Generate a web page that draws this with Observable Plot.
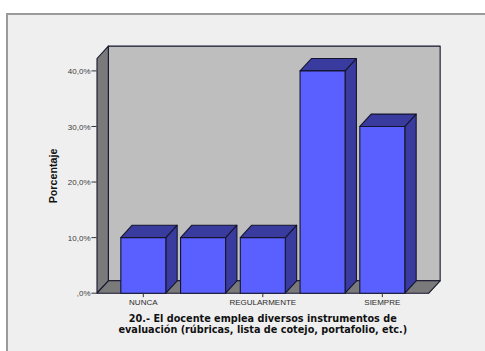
<!DOCTYPE html>
<html>
<head>
<meta charset="utf-8">
<script src="https://cdn.jsdelivr.net/npm/d3@7"></script>
<script src="https://cdn.jsdelivr.net/npm/@observablehq/plot@0.6"></script>
<style>
html,body{margin:0;padding:0;background:#fff;width:485px;height:351px;overflow:hidden}
#wrap{position:relative;width:485px;height:351px}
#panel{position:absolute;left:6px;top:13px;right:-4px;bottom:-4px;background:#efefef;border:2px solid #9a9a9a}
#chart{position:absolute;left:0;top:0}
svg{background:transparent!important;display:block}
</style>
</head>
<body>
<div id="wrap"><div id="panel"></div><div id="chart"></div></div>
<script>
const categories = ["NUNCA", "", "REGULARMENTE", "", "SIEMPRE"];
const percentages = [10, 10, 10, 40, 30];
const yTicks = [0, 10, 20, 30, 40];
const xTitle = "20.- El docente emplea diversos instrumentos de\nevaluación (rúbricas, lista de cotejo, portafolio, etc.)";
const yTitle = "Porcentaje";

// oblique depth of the 3D look, in data units
const depthX = 0.19, depthY = 2.23, halfBar = 0.3765;
const xMin = -0.775, xMax = 4.778, yTop = 42.23;
const tickX = 0.084, tickY = 0.8;

const idx = categories.map((_, i) => i);
const shift = ([x, y], k = 1) => [x + depthX * k, y + depthY * k];
const poly = (id, pts) => [...pts, pts[0]].map(([x, y]) => ({id, x, y}));

const back = poly("b", [[xMin, 0], [xMax, 0], [xMax, yTop], [xMin, yTop]].map(p => shift(p)));
const left = poly("l", [[xMin, 0], [xMin, yTop], shift([xMin, yTop]), shift([xMin, 0])]);
const floor = poly("f", [[xMin, 0], [xMax, 0], shift([xMax, 0]), shift([xMin, 0])]);

const front = [], side = [], top_ = [];
percentages.forEach((v, i) => {
  const a = i - halfBar, b = i + halfBar;
  front.push(...poly(i, [[a, 0], [b, 0], [b, v], [a, v]]));
  side.push(...poly(i, [[b, 0], shift([b, 0]), shift([b, v]), [b, v]]));
  top_.push(...poly(i, [[a, v], [b, v], shift([b, v]), shift([a, v])]));
});

const edge = "#15152e";
const face = (data, fill, stroke = edge) =>
  Plot.line(data, {x: "x", y: "y", z: "id", fill, stroke, strokeWidth: 1.1, curve: "linear", strokeLinejoin: "round"});

const chart = Plot.plot({
  width: 485, height: 351,
  marginTop: 0, marginBottom: 0, marginLeft: 0, marginRight: 0,
  style: {background: "transparent", overflow: "visible"},
  x: {domain: [xMin, xMax], range: [96.5, 428.3], axis: null},
  y: {domain: [0, yTop], range: [292.7, 58], axis: null},
  marks: [
    face(back, "#bebebe"),
    face(left, "#7a7a7a"),
    face(floor, "#7a7a7a"),
    face(side, "#393c9e"),
    face(top_, "#393c9e"),
    face(front, "#5a5fff"),
    Plot.ruleY(yTicks, {y: d => d, x1: xMin - tickX, x2: xMin, stroke: "#333", strokeWidth: 1}),
    Plot.text(yTicks, {
      x: xMin, y: d => d, text: d => (d === 0 ? "" : d) + ",0%",
      textAnchor: "end", dx: -6.5, dy: 0.5, fontSize: 8, fontFamily: "Liberation Sans", fill: "#3c3c3c"
    }),
    Plot.ruleX(idx.filter(i => categories[i]), {x: d => d, y1: -tickY, y2: 0, stroke: "#333", strokeWidth: 1}),
    Plot.text(idx, {
      x: d => d, y: 0, text: d => categories[d], dy: 9.5,
      fontSize: 8, fontFamily: "Liberation Sans", fill: "#2c2c2c"
    }),
    Plot.text([xTitle], {
      x: 2, y: 0, text: d => d, dy: 21, dx: 0, lineAnchor: "top", lineHeight: 1.12,
      fontSize: 9.7, fontWeight: "bold", fontFamily: "DejaVu Sans", fill: "#111"
    }),
    Plot.text([yTitle], {
      frameAnchor: "left", dx: 53, dy: 0, text: d => d, rotate: -90, textAnchor: "middle",
      fontSize: 10.7, fontWeight: "bold", fontFamily: "Liberation Sans", fill: "#111"
    })
  ]
});
document.getElementById("chart").appendChild(chart);
</script>
</body>
</html>
